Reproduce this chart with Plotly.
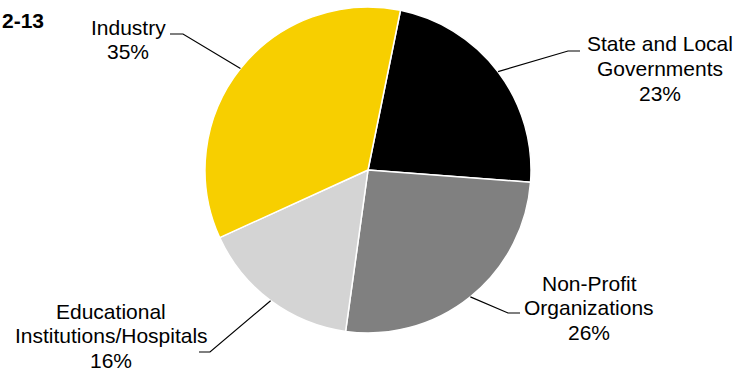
import math
import plotly.graph_objects as go

categories = ["State and Local<br>Governments", "Non-Profit<br>Organizations",
              "Educational<br>Institutions/Hospitals", "Industry"]
values = [23, 26, 16, 35]
colors = ["#000000", "#808080", "#D4D4D4", "#F7CF00"]
chart_tag = "2-13"

W, H = 736, 371
cx, cy, R = 368, 170, 163
rotation = 11.5
line_gap = 24.5

# label placement (pixel): text center x, first line center y, elbow point, line end near text
label_layout = [
    dict(tx=660, ty=44, elbow=(568, 51), end=(580, 51)),
    dict(tx=589, ty=283, elbow=(508, 313), end=(520, 313)),
    dict(tx=111, ty=311, elbow=(210, 352), end=(199, 352)),
    dict(tx=128, ty=27, elbow=(183, 34), end=(170, 34)),
]

def px(x):
    return x / W

def py(y):
    return 1 - y / H

fig = go.Figure(go.Pie(
    labels=categories, values=values, sort=False, direction="clockwise",
    rotation=rotation, textinfo="none", hoverinfo="label+percent",
    marker=dict(colors=colors, line=dict(color="white", width=1.5)),
    domain=dict(x=[px(cx - R), px(cx + R)], y=[py(cy + R), py(cy - R)]),
    showlegend=False,
))

total = sum(values)
cum = 0
shapes = []
annotations = []
font = dict(family="Liberation Sans, Arial", size=21, color="black")
for cat, v, lay in zip(categories, values, label_layout):
    mid = rotation + (cum + v / 2) / total * 360
    cum += v
    a = math.radians(mid)
    ex, ey = cx + R * math.sin(a), cy - R * math.cos(a)
    (bx, by), (qx, qy) = lay["elbow"], lay["end"]
    shapes.append(dict(type="path", xref="paper", yref="paper",
                       path=f"M {px(ex)} {py(ey)} L {px(bx)} {py(by)} L {px(qx)} {py(qy)}",
                       line=dict(color="black", width=1.2)))
    lines = cat.split("<br>") + [f"{round(v / total * 100)}%"]
    for i, t in enumerate(lines):
        annotations.append(dict(x=px(lay["tx"]), y=py(lay["ty"] + i * line_gap),
                                xref="paper", yref="paper", text=t, showarrow=False,
                                xanchor="center", yanchor="middle", align="center",
                                font=font))

annotations.append(dict(x=0, y=py(20), xref="paper", yref="paper", text=f"<b>{chart_tag}</b>",
                        showarrow=False, xanchor="left", yanchor="middle",
                        font=dict(family="Liberation Sans, Arial", size=21, color="black")))

fig.update_layout(width=W, height=H, margin=dict(l=0, r=0, t=0, b=0),
                  paper_bgcolor="white", plot_bgcolor="white",
                  shapes=shapes, annotations=annotations)
fig.write_html("out.html", config={"displayModeBar": False},
               post_script="document.body.style.margin='0';")
